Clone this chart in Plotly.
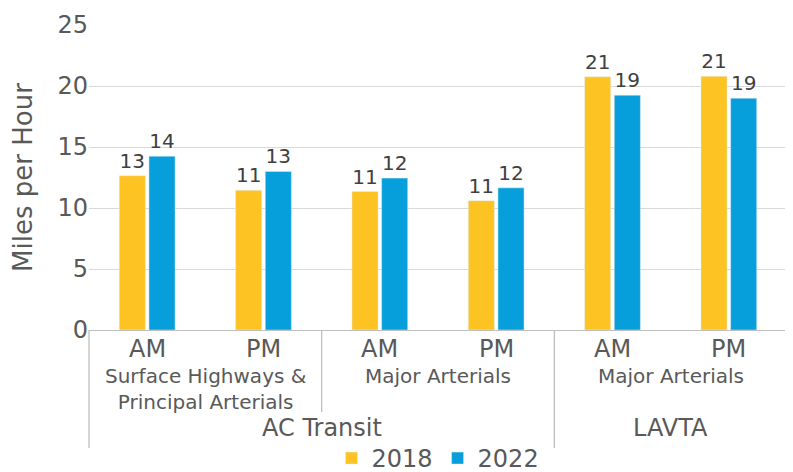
import plotly.graph_objects as go

# ---- data ----
periods = ["AM", "PM", "AM", "PM", "AM", "PM"]
corridors = ["Surface Highways &<br>Principal Arterials", "Major Arterials", "Major Arterials"]
corridor_of_bar = [0, 0, 1, 1, 2, 2]
agencies = ["AC Transit", "LAVTA"]
agency_of_bar = [0, 0, 0, 0, 1, 1]
speed_2018 = [12.65, 11.45, 11.35, 10.6, 20.75, 20.8]
speed_2022 = [14.25, 13.0, 12.45, 11.65, 19.25, 19.0]
series_names = ["2018", "2022"]
y_ticks = [0, 5, 10, 15, 20, 25]

FONT = "DejaVu Sans"
GRAY = "#595959"
LINE = "#BFBFBF"
YELLOW = "#FDC323"
BLUE = "#069FDB"

keys = [f"{agencies[agency_of_bar[i]]}|{corridor_of_bar[i]}|{p}" for i, p in enumerate(periods)]
n = len(keys)

fig = go.Figure()
for name, vals, col in [(series_names[0], speed_2018, YELLOW), (series_names[1], speed_2022, BLUE)]:
    fig.add_trace(go.Bar(
        x=keys, y=vals, name=name, marker_color=col,
        texttemplate="%{y:.0f}", textposition="outside",
        textfont=dict(family=FONT, size=20, color="#404040"),
        cliponaxis=False,
    ))

PLOT_H = 305.0  # plot-area height in px, used to convert pixel offsets


def py(px_below):
    return -px_below / PLOT_H


annotations = []
# level 1: AM / PM
for i, p in enumerate(periods):
    annotations.append(dict(x=keys[i], y=py(19), xref="x", yref="paper", text=p,
                            showarrow=False, yanchor="middle",
                            font=dict(family=FONT, size=24, color=GRAY)))


def spans(groups):
    out = []
    start = 0
    for i in range(1, len(groups) + 1):
        if i == len(groups) or groups[i] != groups[start]:
            out.append((groups[start], start, i - 1))
            start = i
    return out


# level 2: corridor groups
for g, a, b in spans(corridor_of_bar):
    annotations.append(dict(x=(a + b) / 2, y=py(32), xref="x", yref="paper", text=corridors[g],
                            showarrow=False, yanchor="top",
                            font=dict(family=FONT, size=20, color=GRAY)))

# level 3: agencies
for g, a, b in spans(agency_of_bar):
    annotations.append(dict(x=(a + b) / 2, y=py(98), xref="x", yref="paper", text=agencies[g],
                            showarrow=False, yanchor="middle",
                            font=dict(family=FONT, size=24, color=GRAY)))

# separator lines
shapes = []
agency_bounds = set()
for g, a, b in spans(agency_of_bar):
    agency_bounds.add(a - 0.5)
    agency_bounds.add(b + 0.5)
corr_bounds = set()
for g, a, b in spans(corridor_of_bar):
    corr_bounds.add(a - 0.5)
    corr_bounds.add(b + 0.5)
for xb in sorted(agency_bounds | corr_bounds):
    depth = 118 if xb in agency_bounds else 82
    xp = (xb + 0.5) / n
    shapes.append(dict(type="line", xref="paper", yref="paper", x0=xp, x1=xp,
                       y0=0, y1=py(depth), line=dict(color=LINE, width=1.3)))

fig.update_layout(
    width=785, height=464,
    margin=dict(l=81, r=6, t=17, b=142, autoexpand=False),
    plot_bgcolor="white", paper_bgcolor="white",
    font=dict(family=FONT, color=GRAY),
    barmode="group", bargap=0.49, bargroupgap=0.12,
    showlegend=True,
    legend=dict(orientation="h", x=0.5, xanchor="center", y=py(106), yanchor="top",
                font=dict(family=FONT, size=24, color=GRAY), itemwidth=30,
                bgcolor="rgba(0,0,0,0)"),
    annotations=annotations,
    shapes=shapes,
)
fig.update_xaxes(showticklabels=False, showline=True, linecolor=LINE, linewidth=1.3,
                 ticks="", showgrid=False, range=[-0.5, n - 0.5])
fig.update_yaxes(range=[0, 25], tickvals=y_ticks, showgrid=True, gridcolor="#D9D9D9", gridwidth=1.3,
                 zeroline=False, showline=False, ticks="",
                 tickfont=dict(family=FONT, size=24, color=GRAY),
                 title=dict(text="Miles per Hour", font=dict(family=FONT, size=26, color=GRAY), standoff=23))

fig.write_html("out.html")
